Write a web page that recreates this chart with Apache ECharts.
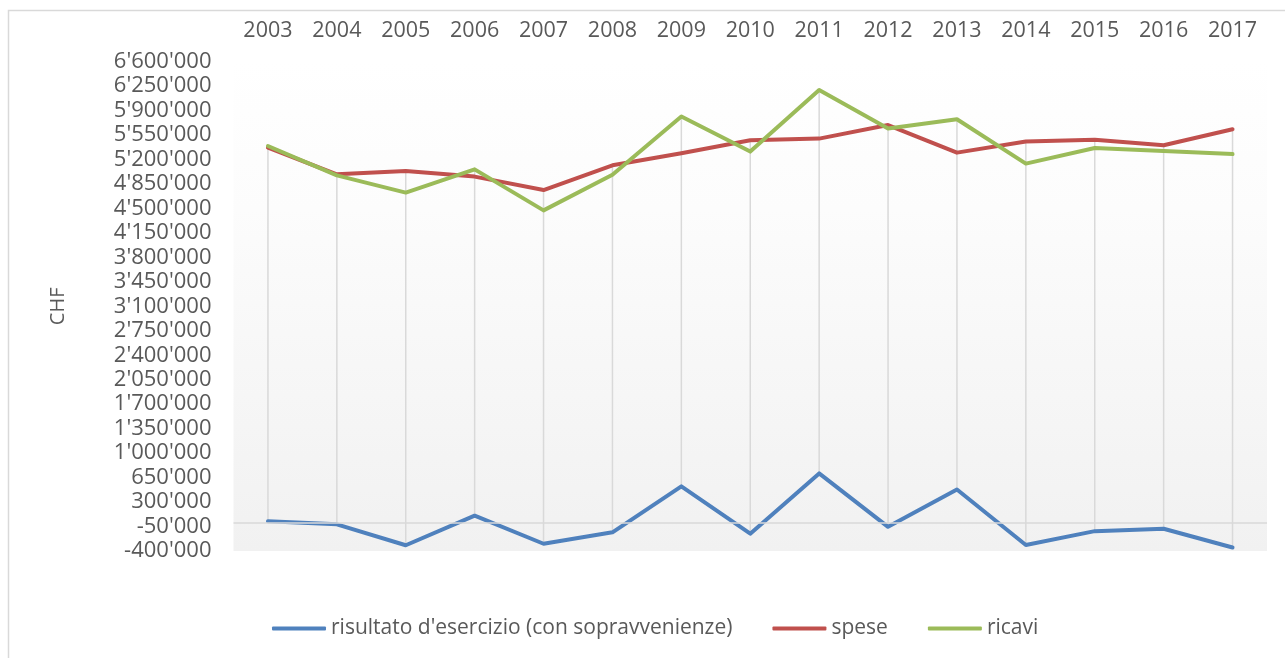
<!DOCTYPE html>
<html>
<head>
<meta charset="utf-8">
<script src="https://cdn.jsdelivr.net/npm/echarts@6/dist/echarts.min.js"></script>
<style>
  html, body { margin: 0; padding: 0; background: #fff; }
  #chart { width: 1285px; height: 658px; }
</style>
</head>
<body>
<div id="chart"></div>
<script>
// dati (CHF)
const years = ['2003', '2004', '2005', '2006', '2007', '2008', '2009', '2010', '2011', '2012', '2013', '2014', '2015', '2016', '2017']
const risultato = [24000, -18000, -318000, 105000, -296000, -133000, 525000, -152000, 710000, -54000, 479000, -315000, -116000, -82000, -350000]
const spese = [5371000, 4989000, 5036000, 4956000, 4764000, 5118000, 5289000, 5475000, 5500000, 5694000, 5299000, 5457000, 5485000, 5404000, 5633000]
const ricavi = [5394000, 4974000, 4727000, 5060000, 4473000, 4984000, 5815000, 5314000, 6196000, 5643000, 5776000, 5142000, 5365000, 5322000, 5279000]
const yTicks = [-400000, -50000, 300000, 650000, 1000000, 1350000, 1700000, 2050000, 2400000, 2750000, 3100000,
  3450000, 3800000, 4150000, 4500000, 4850000, 5200000, 5550000, 5900000, 6250000, 6600000]

const FONT = 'Open Sans'
const TEXT = '#595959'
const GRID = '#d9d9d9'
const COLORS = ['#4f81bd', '#c0504d', '#9bbb59']
const NAMES = ["risultato d'esercizio (con sopravvenienze)", 'spese', 'ricavi']

function fmt(v) {
  const s = String(Math.abs(v)).replace(/\B(?=(\d{3})+(?!\d))/g, "'")
  return (v < 0 ? '-' : '') + s
}

// linee alto-basso: da valore minimo a massimo per ogni anno
const highLow = years.map((y, i) => {
  const vals = [risultato[i], spese[i], ricavi[i]]
  return [i, Math.min(...vals), Math.max(...vals)]
})

function lineSeries(idx, data, z) {
  return {
    name: NAMES[idx],
    type: 'line',
    z,
    data,
    symbol: 'none',
    lineStyle: { color: COLORS[idx], width: 4, cap: 'round', join: 'round' },
    itemStyle: { color: COLORS[idx] },
  }
}

const chart = echarts.init(document.getElementById('chart'), null, { renderer: 'canvas' })

chart.setOption({
  backgroundColor: '#fff',
  animation: false,
  graphic: [
    {
      type: 'rect',
      shape: { x: 8.5, y: 10.5, width: 1400, height: 800 },
      style: { fill: 'none', stroke: GRID, lineWidth: 1.5 },
      silent: true,
    },
  ],
  grid: {
    left: 233.5,
    right: 18,
    top: 61.7,
    bottom: 107,
    show: true,
    borderWidth: 0,
    backgroundColor: {
      type: 'linear', x: 0, y: 0, x2: 0, y2: 1,
      colorStops: [{ offset: 0, color: '#ffffff' }, { offset: 0.3, color: '#fcfcfc' }, { offset: 1, color: '#f1f1f1' }],
    },
  },
  legend: {
    data: NAMES.map((n) => ({ name: n, icon: 'roundRect' })),
    left: 267,
    top: 613,
    itemWidth: 54,
    itemHeight: 4,
    itemGap: 40,
    textStyle: { color: TEXT, fontFamily: FONT, fontSize: 21 },
  },
  xAxis: {
    type: 'category',
    data: years,
    position: 'top',
    boundaryGap: true,
    axisLine: { show: false },
    axisTick: { show: false },
    splitLine: { show: false },
    axisLabel: { color: TEXT, fontFamily: FONT, fontSize: 21.5, margin: 20 },
  },
  yAxis: [
    {
      // asse dei dati
      type: 'value',
      min: yTicks[0],
      max: yTicks[yTicks.length - 1],
      axisLine: { show: false },
      axisTick: { show: false },
      axisLabel: { show: false },
      splitLine: { show: false },
    },
    {
      // asse solo per le etichette
      type: 'value',
      position: 'left',
      min: 0,
      max: yTicks.length - 1,
      interval: 1,
      name: 'CHF',
      nameLocation: 'middle',
      nameRotate: 90,
      nameGap: 165,
      nameTextStyle: { color: TEXT, fontFamily: FONT, fontSize: 20 },
      axisLine: { show: false },
      axisTick: { show: false },
      splitLine: { show: false },
      axisLabel: {
        color: TEXT, fontFamily: FONT, fontSize: 22, margin: 22,
        formatter: (v) => fmt(yTicks[v]),
      },
    },
  ],
  series: [
    {
      name: 'highlow',
      type: 'custom',
      z: 1,
      silent: true,
      encode: { x: 0, y: [1, 2] },
      data: highLow,
      renderItem: (params, api) => {
        const top = api.coord([api.value(0), api.value(2)])
        const bot = api.coord([api.value(0), api.value(1)])
        return {
          type: 'line',
          shape: { x1: top[0], y1: top[1], x2: bot[0], y2: bot[1] },
          style: { stroke: GRID, lineWidth: 1.5 },
        }
      },
      markLine: {
        silent: true,
        symbol: ['none', 'none'],
        label: { show: false },
        lineStyle: { color: GRID, width: 1.5, type: 'solid' },
        data: [{ yAxis: 0 }],
      },
    },
    lineSeries(0, risultato, 3),
    lineSeries(1, spese, 3),
    lineSeries(2, ricavi, 4),
  ],
})
</script>
</body>
</html>
